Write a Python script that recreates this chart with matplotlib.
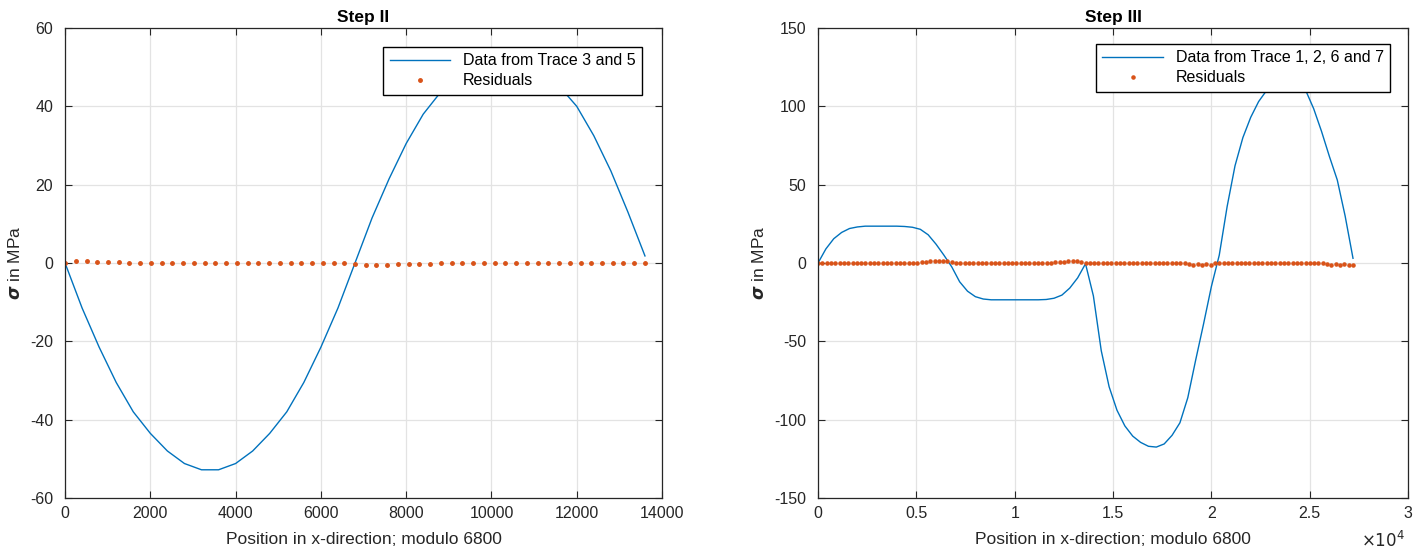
import numpy as np
import matplotlib
matplotlib.use("Agg")
import matplotlib.pyplot as plt
from matplotlib.ticker import FuncFormatter

plt.rcParams['font.family'] = ['Liberation Sans', 'DejaVu Sans']
plt.rcParams['mathtext.fontset'] = 'dejavusans'
plt.rcParams['axes.unicode_minus'] = False

BLUE = '#0072BD'
ORANGE = '#D95319'
DARK = '#262626'

# ---- Step II data ----
step2_x = [0, 400, 800, 1200, 1600, 2000, 2400, 2800, 3200, 3600, 4000, 4400,
           4800, 5200, 5600, 6000, 6400, 6800, 7200, 7600, 8000, 8400, 8800,
           9200, 9600, 10000, 10400, 10800, 11200, 11600, 12000, 12400, 12800,
           13200, 13600]
step2_sigma = [0, -11.5, -21.5, -30.5, -38, -43.5, -48, -51.2, -52.8, -52.8,
               -51.2, -48, -43.5, -38, -30.5, -21.5, -11.5, 0,
               11.5, 21.5, 30.5, 38, 43.5, 48, 51.2, 52.8, 52.8, 51.2, 48,
               45, 40, 32.5, 23.5, 13, 1.8]
step2_res = [0, 0.5, 0.4, 0.3, 0.2, 0.2, 0.1, 0, -0.1, -0.1,
             0, 0, 0, 0.1, 0.1, 0, 0, -0.1, -0.1, -0.1,
             -0.1, -0.1, -0.1, 0, 0, -0.1, 0, -0.3, -0.6, -0.5,
             -0.4, -0.3, -0.3, -0.2, -0.2, -0.1, -0.1, -0.1, 0, 0,
             0, 0, 0.1, 0.1, 0.1, 0, 0, 0, 0.1, 0,
             0, 0, -0.1, -0.1, -0.1]
step2_res_x = np.linspace(0, 13600, len(step2_res))

# ---- Step III data ----
step3_sigma = [0, 9, 15.5, 19.5, 22, 23, 23.5, 23.5, 23.5, 23.5,
               23.5, 23.3, 22.8, 21.5, 18, 12, 5, -2.5, -12, -18,
               -21.5, -23, -23.5, -23.5, -23.5, -23.5, -23.5, -23.5, -23.5, -23.3,
               -22.5, -20.5, -16, -9.5, -0.5, -21, -56, -79, -94, -104,
               -110.5, -114.5, -117, -117.5, -115.5, -110, -102, -86, -62, -39,
               -15, 5, 36, 62, 80, 93, 103, 110, 114.5, 117,
               117, 114.5, 110, 98.5, 84, 68, 53, 30, 3]
step3_x = 400 * np.arange(len(step3_sigma))
step3_res = [0, 0, 0.1, 0, 0, -0.1, 0, 0, 0, 0.1,
             0, 0, 0, 0.1, 0, 0, 0, -0.1, 0, 0,
             0, 0, 0.1, 0, 0.5, 0.8, 1.0, 1.2, 1.0, 1.3,
             1.0, 0.5, 0, 0, 0, 0.1, 0, 0, 0, 0,
             0, 0, -0.1, 0, 0, 0, 0, 0.1, 0, 0,
             0, 0, 0, 0, 0.2, 0.5, 0.8, 0.6, 1.0, 1.1,
             1.0, 0.8, 0.3, 0, 0, 0, 0, 0, 0.1, 0,
             0, 0, 0, 0, 0, 0, -0.1, 0, 0, 0,
             0, 0, 0, 0, 0, -0.3, -0.5, -1.0, -0.4, -1.2,
             -0.6, -1.0, -0.3, 0, 0, 0, 0.1, 0, 0, 0,
             0, 0, 0, 0, 0, 0, 0, 0, 0, 0,
             0, 0, 0, 0, 0, 0, 0, -0.3, -0.6, -1.0,
             -0.5, -1.2, -0.8, -1.2, -1.2]
step3_res_x = np.linspace(0, 27200, len(step3_res))

fig = plt.figure(figsize=(14.17, 5.54), dpi=100)
ax1 = fig.add_axes([0.0459, 0.1011, 0.4213, 0.8484])
ax2 = fig.add_axes([0.5773, 0.1011, 0.4164, 0.8484])


def style(ax):
    ax.grid(True, color='#e3e3e3', linewidth=0.9)
    ax.set_axisbelow(True)
    ax.tick_params(direction='in', top=True, right=True, length=5,
                   labelsize=11.5, width=0.8, colors=DARK)
    ax.tick_params(axis='y', pad=8.5)
    ax.tick_params(axis='x', pad=6)
    for s in ax.spines.values():
        s.set_linewidth(0.9)
        s.set_color(DARK)
    ax.set_xlabel('Position in x-direction; modulo 6800', fontsize=12.5,
                  color=DARK, labelpad=8)
    ax.set_ylabel(r'$\boldsymbol{\sigma}$ in MPa', fontsize=12.5, color=DARK,
                  labelpad=5)


ax1.plot(step2_x, step2_sigma, color=BLUE, linewidth=1.0,
         label='Data from Trace 3 and 5')
ax1.plot(step2_res_x, step2_res, '.', color=ORANGE, markersize=5,
         label='Residuals')
ax1.set_xlim(0, 14000)
ax1.set_ylim(-60, 60)
ax1.set_xticks(np.arange(0, 14001, 2000))
ax1.set_yticks(np.arange(-60, 61, 20))
ax1.set_title('Step II', fontsize=12.5, fontweight='bold', pad=4)
style(ax1)
ax1.legend(loc='upper right', bbox_to_anchor=(0.9665, 0.9596), fontsize=11.5,
           fancybox=False, edgecolor='black', framealpha=1, handlelength=3.8,
           borderaxespad=0, labelspacing=0.3, borderpad=0.4)

ax2.plot(step3_x, step3_sigma, color=BLUE, linewidth=1.0,
         label='Data from Trace 1, 2, 6 and 7')
ax2.plot(step3_res_x, step3_res, '.', color=ORANGE, markersize=4.5,
         label='Residuals')
ax2.set_xlim(0, 30000)
ax2.set_ylim(-150, 150)
ax2.set_xticks(np.arange(0, 30001, 5000))
ax2.set_yticks(np.arange(-150, 151, 50))
ax2.xaxis.set_major_formatter(FuncFormatter(lambda v, p: '%g' % (v / 1e4)))
ax2.set_title('Step III', fontsize=12.5, fontweight='bold', pad=4)
style(ax2)
ax2.text(0.995, -0.11, r'$\times10^4$', transform=ax2.transAxes, ha='right',
         va='bottom', fontsize=12, color=DARK)
ax2.legend(loc='upper right', bbox_to_anchor=(0.9695, 0.966), fontsize=11.5,
           fancybox=False, edgecolor='black', framealpha=1, handlelength=3.8,
           borderaxespad=0, labelspacing=0.3, borderpad=0.4)

fig.savefig('out.png', dpi=100)
